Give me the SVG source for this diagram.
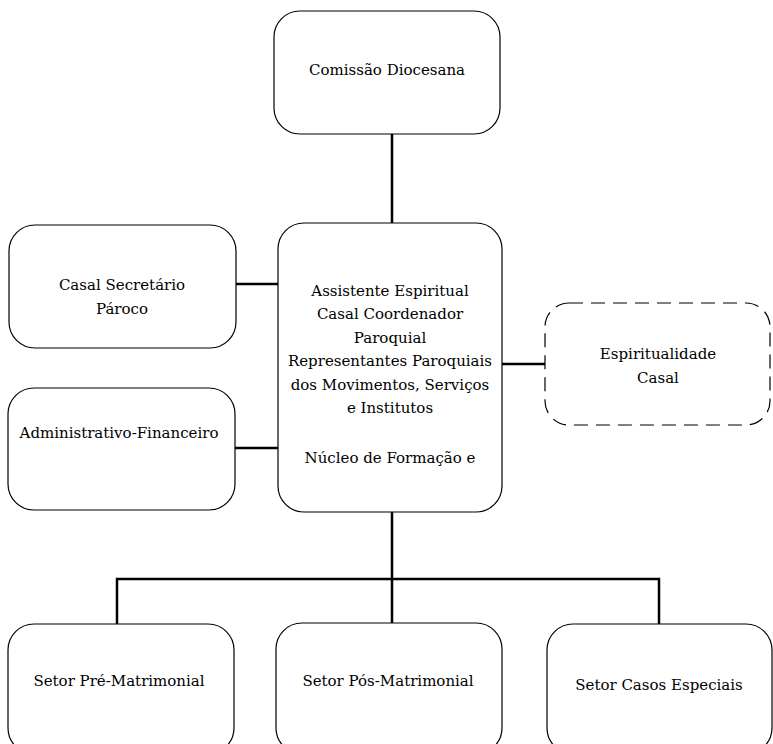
<svg xmlns="http://www.w3.org/2000/svg" width="773" height="744" viewBox="0 0 773 744">
<style>
.box{fill:#fff;stroke:#000;stroke-width:1.2}
.dash{fill:#fff;stroke:#000;stroke-width:1.2;stroke-dasharray:14 8}
.conn{fill:none;stroke:#000;stroke-width:2.5}
.t{font-size:15px;fill:#000;text-anchor:middle}
</style>
<rect width="773" height="744" fill="#fff"/>
<g id="connectors">
<line class="conn" x1="392" y1="134" x2="392" y2="223"/>
<line class="conn" x1="236" y1="284" x2="278" y2="284"/>
<line class="conn" x1="235" y1="448" x2="278" y2="448"/>
<line class="conn" x1="502" y1="364" x2="545" y2="364"/>
<line class="conn" x1="392" y1="512" x2="392" y2="624"/>
<polyline class="conn" points="117,624 117,579 659,579 659,624"/>
</g>
<g font-family="DejaVu Serif, serif">
<g id="comissao">
<rect class="box" x="274" y="11" width="226" height="123" rx="26"/>
<text class="t" x="387" y="75">Comissão Diocesana</text>
</g>
<g id="central">
<rect class="box" x="278" y="223" width="224" height="289" rx="26"/>
<text class="t" x="390" y="296">Assistente Espiritual</text>
<text class="t" x="390" y="319">Casal Coordenador</text>
<text class="t" x="390" y="343">Paroquial</text>
<text class="t" x="390" y="366">Representantes Paroquiais</text>
<text class="t" x="390" y="390">dos Movimentos, Serviços</text>
<text class="t" x="390" y="413">e Institutos</text>
<text class="t" x="390" y="463">Núcleo de Formação e</text>
</g>
<g id="casal-secretario">
<rect class="box" x="9" y="225" width="227" height="123" rx="26"/>
<text class="t" x="122" y="290">Casal Secretário</text>
<text class="t" x="122" y="314">Pároco</text>
</g>
<g id="administrativo">
<rect class="box" x="8" y="388" width="227" height="122" rx="26"/>
<text class="t" x="119" y="438">Administrativo-Financeiro</text>
</g>
<g id="espiritualidade">
<rect class="dash" x="545" y="303" width="225" height="122" rx="24"/>
<text class="t" x="658" y="359">Espiritualidade</text>
<text class="t" x="658" y="383">Casal</text>
</g>
<g id="setor-pre">
<rect class="box" x="8" y="624" width="226" height="130" rx="26"/>
<text class="t" x="119" y="686">Setor Pré-Matrimonial</text>
</g>
<g id="setor-pos">
<rect class="box" x="276" y="623" width="226" height="131" rx="26"/>
<text class="t" x="388" y="686">Setor Pós-Matrimonial</text>
</g>
<g id="setor-casos">
<rect class="box" x="547" y="624" width="225" height="130" rx="26"/>
<text class="t" x="659" y="690">Setor Casos Especiais</text>
</g>
</g>
</svg>
